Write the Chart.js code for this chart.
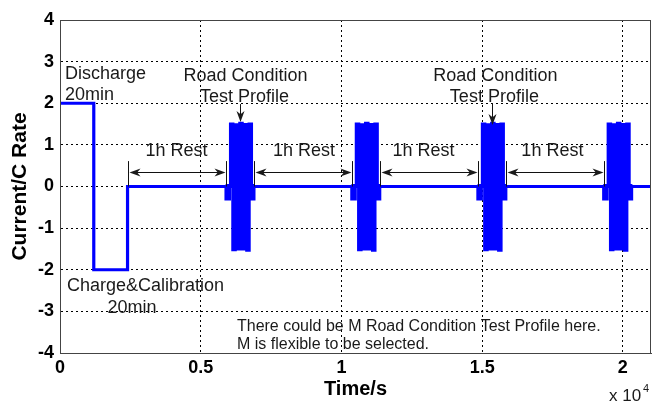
<!DOCTYPE html>
<html>
<head>
<meta charset="utf-8">
<script src="https://cdn.jsdelivr.net/npm/chart.js@4.4.1/dist/chart.umd.min.js"></script>
<style>
  html, body { margin: 0; padding: 0; background: #fff; }
  #wrap { width: 652px; height: 403px; }
</style>
</head>
<body>
<div id="wrap"><canvas id="myChart" width="652" height="403"></canvas></div>
<script>
// discharge / charge&calibration steps at the start (time in s, current in C)
const stepTimes = [0, 1200, 2400];
const stepCurrent = [2, -2, 0];

// start of each road condition test profile (s)
const profileStarts = [5900, 10370, 14850, 19320];
const profileLength = 990;

// one road condition test profile: sample time within the profile (s) and C rate, held until the next sample
const roadOffsets = [0, 40, 80, 120, 160, 242.5, 325, 407.5, 490, 572.5, 655, 737.5, 820, 902.5, 935, 962];
const roadProfile = [-0.3, 0.02, -0.3, 0, 1.5, -1.52, 1.48, -1.5, 1.52, -1.5, 1.49, -1.53, 1.5, -0.3, 0.02, -0.3];

const endTime = 21000;
const xTicks = [0, 5000, 10000, 15000, 20000];
const yTicks = [-4, -3, -2, -1, 0, 1, 2, 3, 4];

// build the current profile (sample-and-hold)
const points = stepTimes.map((t, i) => ({ x: t, y: stepCurrent[i] }));
profileStarts.forEach(start => {
  roadProfile.forEach((c, i) => points.push({ x: start + roadOffsets[i], y: c }));
  points.push({ x: start + profileLength, y: 0 });
});
points.push({ x: endTime, y: 0 });

// text notes in data coordinates (x = time, y = baseline in C rate)
const notes = [
  { text: 'Discharge', x: 178, y: 2.58, align: 'left' },
  { text: '20min', x: 178, y: 2.08, align: 'left' },
  { text: 'Road Condition', x: 6590, y: 2.53, align: 'center' },
  { text: 'Test Profile', x: 6554, y: 2.04, align: 'center' },
  { text: 'Road Condition', x: 15470, y: 2.53, align: 'center' },
  { text: 'Test Profile', x: 15435, y: 2.04, align: 'center' },
  { text: '1h Rest', x: 4139, y: 0.73, align: 'center' },
  { text: '1h Rest', x: 8668, y: 0.73, align: 'center' },
  { text: '1h Rest', x: 12913, y: 0.73, align: 'center' },
  { text: '1h Rest', x: 17496, y: 0.73, align: 'center' },
  { text: 'Charge&Calibration', x: 249, y: -2.51, align: 'left' },
  { text: '20min', x: 2558, y: -3.03, align: 'center' },
  { text: 'There could be M Road Condition Test Profile here.', x: 6288, y: -3.47, align: 'left', size: 16 },
  { text: 'M is flexible to be selected.', x: 6288, y: -3.9, align: 'left', size: 16 }
];

// pointers from "Road Condition Test Profile" down to the blocks
const pointers = [
  { x: 6394, from: 1.98, to: 1.55 },
  { x: 15346, from: 2.0, to: 1.48 }
];

// rest spans between the blocks
const rests = [[2400, profileStarts[0]]];
for (let i = 0; i < profileStarts.length - 1; i++) {
  rests.push([profileStarts[i] + profileLength, profileStarts[i + 1]]);
}
const restArrowY = 0.35;
const restBarTop = 0.61;

function arrowHead(ctx, x, y, dx, dy) {
  // filled arrow head with tip at (x, y) pointing along (dx, dy)
  const len = 11, half = 4;
  const px = -dy, py = dx;
  ctx.beginPath();
  ctx.moveTo(x, y);
  ctx.lineTo(x - dx * len + px * half, y - dy * len + py * half);
  ctx.lineTo(x - dx * len * 0.7, y - dy * len * 0.7);
  ctx.lineTo(x - dx * len - px * half, y - dy * len - py * half);
  ctx.closePath();
  ctx.fill();
}

const annotations = {
  id: 'annotations',
  afterDatasetsDraw(chart) {
    const { ctx, chartArea, scales: { x, y } } = chart;
    ctx.save();

    // frame around the plot
    ctx.strokeStyle = '#444';
    ctx.lineWidth = 1;
    ctx.strokeRect(chartArea.left + 0.5, chartArea.top + 0.5,
      chartArea.right - chartArea.left - 1, chartArea.bottom - chartArea.top);

    ctx.fillStyle = '#1a1a1a';
    ctx.strokeStyle = '#111';
    ctx.textBaseline = 'alphabetic';
    notes.forEach(n => {
      ctx.font = (n.size || 18) + 'px "Liberation Sans", Arial, sans-serif';
      ctx.textAlign = n.align;
      ctx.fillText(n.text, x.getPixelForValue(n.x), y.getPixelForValue(n.y));
    });

    pointers.forEach(p => {
      const px = Math.round(x.getPixelForValue(p.x)) + 0.5;
      const y0 = y.getPixelForValue(p.from), y1 = y.getPixelForValue(p.to);
      ctx.beginPath();
      ctx.moveTo(px, y0);
      ctx.lineTo(px, y1 - 4);
      ctx.stroke();
      arrowHead(ctx, px, y1, 0, 1);
    });

    const ay = Math.round(y.getPixelForValue(restArrowY)) + 0.5;
    const barTop = y.getPixelForValue(restBarTop);
    const barBottom = y.getPixelForValue(0);
    rests.forEach(([a, b]) => {
      const xa = Math.round(x.getPixelForValue(a)) + 0.5;
      const xb = Math.round(x.getPixelForValue(b)) + 0.5;
      ctx.beginPath();
      ctx.moveTo(xa, barTop); ctx.lineTo(xa, barBottom);
      ctx.moveTo(xb, barTop); ctx.lineTo(xb, barBottom);
      ctx.moveTo(xa + 4, ay); ctx.lineTo(xb - 4, ay);
      ctx.stroke();
      arrowHead(ctx, xa + 1, ay, -1, 0);
      arrowHead(ctx, xb - 1, ay, 1, 0);
    });

    // axis exponent
    ctx.textAlign = 'left';
    ctx.font = '17px "Liberation Sans", Arial, sans-serif';
    ctx.fillText('x 10', 609, 401);
    ctx.font = '11px "Liberation Sans", Arial, sans-serif';
    ctx.fillText('4', 643, 392);

    ctx.restore();
  }
};

const tickFont = { family: '"Liberation Sans", Arial, sans-serif', size: 18, weight: 'bold' };
const gridStyle = { color: '#000', lineWidth: 1, drawTicks: false };

new Chart(document.getElementById('myChart').getContext('2d'), {
  type: 'line',
  data: {
    datasets: [{
      label: 'Current',
      data: points,
      borderColor: '#0000ff',
      borderWidth: 3.2,
      borderJoinStyle: 'miter',
      stepped: true,
      pointRadius: 0,
      fill: false
    }]
  },
  options: {
    responsive: false,
    animation: false,
    events: [],
    layout: { padding: { top: 20, right: 1, left: 0, bottom: 0 } },
    plugins: { legend: { display: false }, tooltip: { enabled: false } },
    scales: {
      x: {
        type: 'linear',
        min: 0,
        max: endTime,
        afterBuildTicks: s => { s.ticks = xTicks.map(v => ({ value: v })); },
        afterFit: s => { s.height = 50; },
        ticks: {
          color: '#000',
          font: tickFont,
          padding: 4,
          maxRotation: 0,
          callback: v => String(v / 10000)
        },
        grid: gridStyle,
        border: { display: true, color: '#444', dash: [2, 3] },
        title: {
          display: true,
          text: 'Time/s',
          color: '#000',
          font: { family: '"Liberation Sans", Arial, sans-serif', size: 20, weight: 'bold' },
          padding: { top: 0, bottom: 2 }
        }
      },
      y: {
        type: 'linear',
        min: -4,
        max: 4,
        afterBuildTicks: s => { s.ticks = yTicks.map(v => ({ value: v })); },
        afterFit: s => { s.width = 60; },
        ticks: {
          color: '#000',
          font: tickFont,
          padding: 6,
          callback: v => String(v)
        },
        grid: gridStyle,
        border: { display: true, color: '#444', dash: [2, 3] },
        title: {
          display: true,
          text: 'Current/C Rate',
          color: '#000',
          font: { family: '"Liberation Sans", Arial, sans-serif', size: 21, weight: 'bold' },
          padding: { top: 8, bottom: 0 }
        }
      }
    }
  },
  plugins: [annotations]
});
</script>
</body>
</html>
